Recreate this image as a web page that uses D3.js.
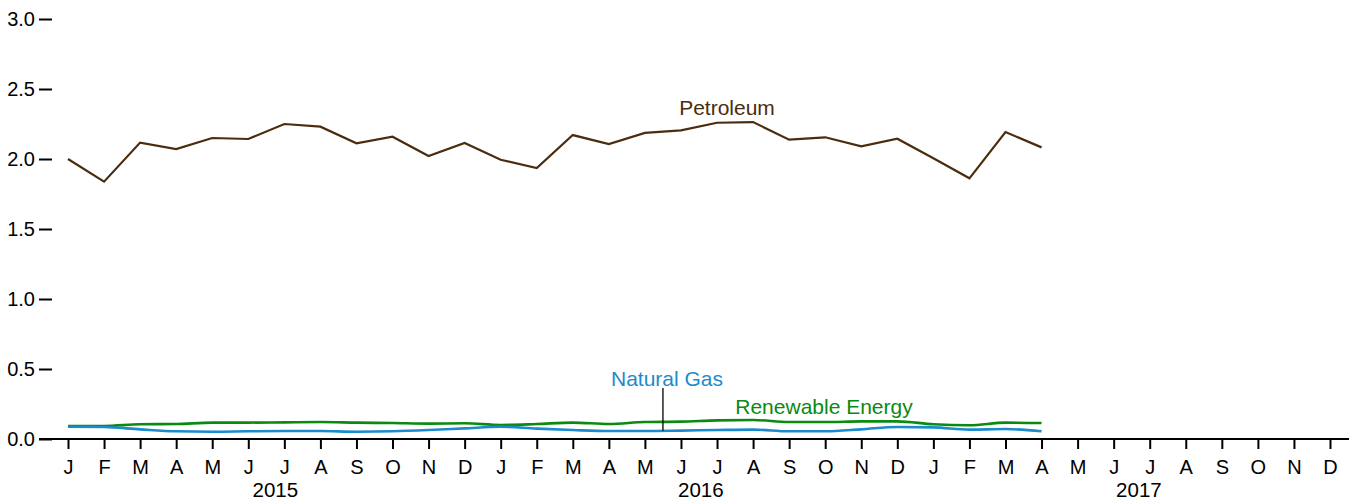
<!DOCTYPE html>
<html>
<head>
<meta charset="utf-8">
<script src="https://cdn.jsdelivr.net/npm/d3@7"></script>
<style>
  html, body { margin: 0; padding: 0; background: #fff; }
  svg { display: block; font-family: "Liberation Sans", Arial, sans-serif; }
</style>
</head>
<body>
<svg id="chart" width="1354" height="502"></svg>
<script>
// ---- data ----
const monthLabels = ["J","F","M","A","M","J","J","A","S","O","N","D",
                     "J","F","M","A","M","J","J","A","S","O","N","D",
                     "J","F","M","A","M","J","J","A","S","O","N","D"];
const years = ["2015", "2016", "2017"];
const yearCenters = [5.75, 17.55, 29.7]; // in month-index units
const yTicks = [0, 0.5, 1.0, 1.5, 2.0, 2.5, 3.0];

const petroleum = [2.00, 1.838, 2.117, 2.071, 2.150, 2.143, 2.250, 2.231, 2.112, 2.159, 2.021, 2.114,
                   1.995, 1.936, 2.171, 2.107, 2.186, 2.205, 2.259, 2.264, 2.138, 2.155, 2.091, 2.145,
                   2.005, 1.862, 2.193, 2.083];
const naturalGas = [0.088, 0.086, 0.069, 0.055, 0.052, 0.055, 0.057, 0.057, 0.052, 0.055, 0.064, 0.076,
                    0.088, 0.074, 0.064, 0.057, 0.057, 0.060, 0.064, 0.067, 0.055, 0.055, 0.069, 0.086,
                    0.083, 0.067, 0.071, 0.055];
const renewable = [0.093, 0.093, 0.105, 0.107, 0.117, 0.117, 0.119, 0.121, 0.117, 0.114, 0.110, 0.112,
                   0.100, 0.107, 0.117, 0.107, 0.121, 0.124, 0.133, 0.136, 0.121, 0.121, 0.126, 0.126,
                   0.105, 0.098, 0.117, 0.114];

const colors = { petroleum: "#4b2c0e", gas: "#1a8bcc", renew: "#0a8a0f" };

// ---- scales ----
const svg = d3.select("#chart");
const x = d3.scaleLinear().domain([0, 35]).range([68, 1330]);
const y = d3.scaleLinear().domain([0, 3]).range([439, 19]);

// ---- y axis ----
const yAxis = d3.axisLeft(y).tickValues(yTicks).tickFormat(d3.format(".1f"))
  .tickSize(13).tickPadding(4);
const gy = svg.append("g").attr("transform", "translate(52,0)").call(yAxis);
gy.select(".domain").remove();
gy.selectAll(".tick line").attr("stroke", "#000").attr("stroke-width", 2);
gy.selectAll(".tick text").attr("font-size", 20).attr("fill", "#000")
  .attr("font-family", "Liberation Sans, Arial, sans-serif");

// ---- x axis ----
const xAxis = d3.axisBottom(x).tickValues(d3.range(monthLabels.length))
  .tickFormat(i => monthLabels[i]).tickSize(10).tickPadding(11);
const gx = svg.append("g").attr("transform", "translate(0,439)").call(xAxis);
gx.select(".domain").remove();
gx.selectAll(".tick line").attr("stroke", "#000").attr("stroke-width", 2);
gx.selectAll(".tick text").attr("font-size", 20).attr("fill", "#000")
  .attr("font-family", "Liberation Sans, Arial, sans-serif");
svg.append("line").attr("x1", 39).attr("x2", 1349).attr("y1", 439).attr("y2", 439)
  .attr("stroke", "#000").attr("stroke-width", 2);

svg.append("g").selectAll("text").data(years).join("text")
  .attr("x", (d, i) => x(yearCenters[i]))
  .attr("y", 497)
  .attr("text-anchor", "middle")
  .attr("font-size", 20.5)
  .attr("fill", "#000")
  .text(d => d);

// ---- lines ----
const linePlain = d3.line().x((d, i) => x(i)).y(d => y(d));
const lineSmooth = d3.line().x((d, i) => x(i)).y(d => y(d)).curve(d3.curveMonotoneX);

svg.append("path").datum(renewable).attr("d", lineSmooth)
  .attr("fill", "none").attr("stroke", colors.renew).attr("stroke-width", 2.6);
svg.append("path").datum(naturalGas).attr("d", lineSmooth)
  .attr("fill", "none").attr("stroke", colors.gas).attr("stroke-width", 2.6);
svg.append("path").datum(petroleum).attr("d", linePlain)
  .attr("fill", "none").attr("stroke", colors.petroleum).attr("stroke-width", 2.2)
  .attr("stroke-linejoin", "miter");

// ---- labels ----
svg.append("text").attr("x", 727).attr("y", 115).attr("text-anchor", "middle")
  .attr("font-size", 21).attr("fill", colors.petroleum).text("Petroleum");

// leader line for Natural Gas: between May 2016 (16) and Jun 2016 (17)
const leaderIdx = 16.5;
const leaderVal = (naturalGas[16] + naturalGas[17]) / 2;
svg.append("line").attr("x1", x(leaderIdx)).attr("x2", x(leaderIdx))
  .attr("y1", 388).attr("y2", y(leaderVal))
  .attr("stroke", "#000").attr("stroke-width", 1.3);
svg.append("text").attr("x", 667).attr("y", 386).attr("text-anchor", "middle")
  .attr("font-size", 21).attr("fill", colors.gas).text("Natural Gas");
svg.append("text").attr("x", 824).attr("y", 413.5).attr("text-anchor", "middle")
  .attr("font-size", 21).attr("fill", colors.renew).text("Renewable Energy");
</script>
</body>
</html>
